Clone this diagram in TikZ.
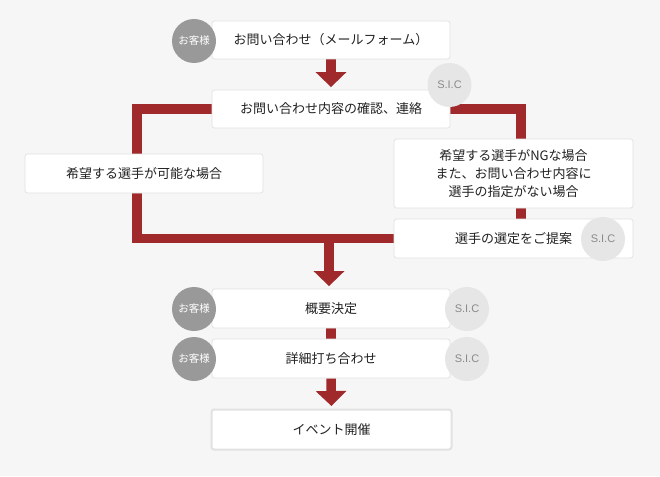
\documentclass[tikz,border=0pt]{standalone}
\usepackage{fontspec}
\setmainfont{Noto Sans CJK JP}
\newfontfamily\sicfont{Liberation Sans}
\usetikzlibrary{arrows.meta}
\pgfdeclarelayer{background}
\pgfsetlayers{background,main}
\definecolor{bgc}{HTML}{F6F6F6}
\definecolor{flowred}{HTML}{A0292B}
\definecolor{boxline}{HTML}{E2E2E2}
\definecolor{custc}{HTML}{999999}
\definecolor{sicc}{HTML}{E6E6E6}
\definecolor{sictext}{HTML}{8A8A8A}
\definecolor{txt}{HTML}{222222}
\tikzset{
  box/.style={draw=boxline, line width=0.8pt, fill=white, rounded corners=2.5pt,
    minimum width=238pt, minimum height=38pt, inner sep=0pt, text=txt,
    font=\fontsize{13}{18.3}\selectfont, align=center},
  cust/.style={circle, fill=custc, minimum size=44pt, inner sep=0pt, text=white,
    font=\fontsize{10.5}{12}\selectfont},
  sic/.style={circle, fill=sicc, minimum size=44pt, inner sep=0pt, text=sictext,
    font=\sicfont\fontsize{11}{12}\selectfont},
  redline/.style={draw=flowred, line width=9.5pt, line join=miter, line cap=butt},
  redarrow/.style={redline, -{Triangle[width=30pt,length=15pt]}, shorten >=2.5pt},
}
\begin{document}
\begin{tikzpicture}[x=1pt,y=-1pt]
\begin{pgfonlayer}{background}
\fill[bgc] (0,0) rectangle (660,476);
\end{pgfonlayer}
\useasboundingbox (0,0) rectangle (660,476);

% boxes
\node[box] (b1) at (331,40) {お問い合わせ（メールフォーム）};
\node[box] (b2) at (331,109) {お問い合わせ内容の確認、連絡};
\node[box, minimum height=39pt] (b3) at (144,173.5) {希望する選手が可能な場合};
\node[box, minimum width=239pt, minimum height=69pt] (b4) at (513.5,173.5)
  {希望する選手がNGな場合\\また、お問い合わせ内容に\\選手の指定がない場合};
\node[box, minimum width=239pt, minimum height=39pt] (b5) at (513.5,238.5) {選手の選定をご提案};
\node[box, minimum height=39pt] (b6) at (331,308.5) {概要決定};
\node[box, minimum height=39pt] (b7) at (331,358.5) {詳細打ち合わせ};
\node[box, minimum width=240pt, minimum height=40pt, line width=2pt] (b8) at (331.5,429.5) {イベント開催};

% circles
\node[cust] (c1) at (194,41) {お客様};
\node[sic]  (s1) at (449.5,85) {S.I.C};
\node[sic]  (s2) at (603,239) {S.I.C};
\node[cust] (c2) at (194,309) {お客様};
\node[sic]  (s3) at (467,309) {S.I.C};
\node[cust] (c3) at (194,359) {お客様};
\node[sic]  (s4) at (467,359) {S.I.C};

% junction coordinates
\coordinate (lc) at (137,200);
\coordinate (rtop) at (521,139);
\coordinate (rbot) at (521,219);
\coordinate (rmid) at (521,208);
\coordinate (j) at (329,238.5);

% connectors (behind boxes)
\begin{pgfonlayer}{background}
\draw[redarrow] (b1.south) -- (b2.north);
\draw[redline] (b2.west) -| (lc) |- (b5.west);
\draw[redline] (b2.east) -| (rtop);
\draw[redline] (rmid) -- (rbot);
\draw[redarrow] (j) -- (j |- b6.north);
\draw[redline] (b6.south) -- (b7.north);
\draw[redarrow] (b7.south) -- (b8.north);
\end{pgfonlayer}
\end{tikzpicture}
\end{document}
